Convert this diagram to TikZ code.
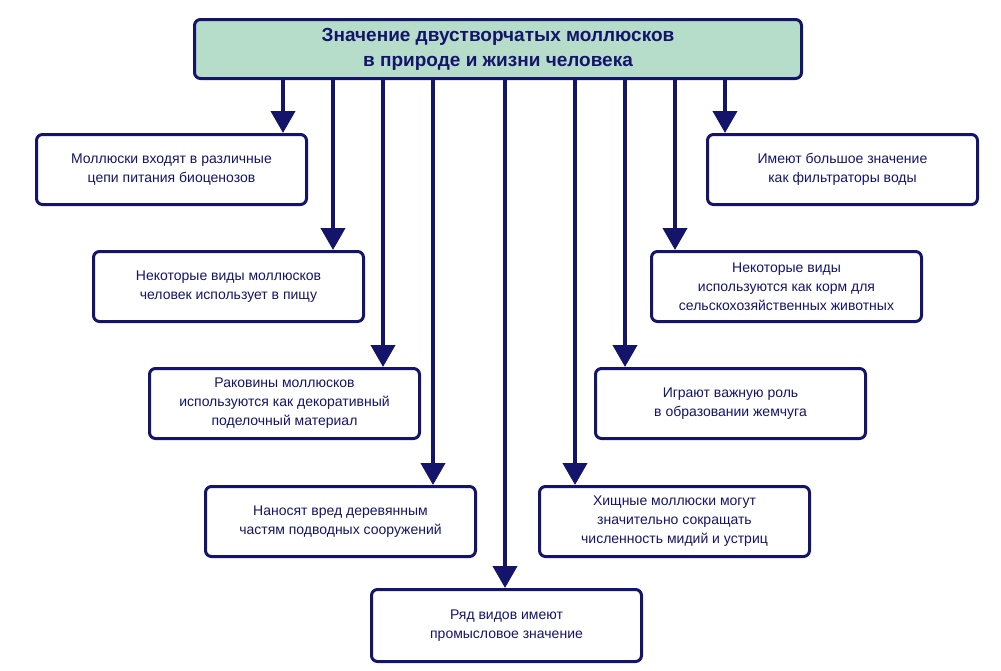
\documentclass[tikz,border=0pt]{standalone}
\usepackage{fontspec}
\setmainfont{Liberation Sans}
\usetikzlibrary{arrows.meta}
\definecolor{navy}{HTML}{14146B}
\definecolor{mint}{HTML}{B5DDCA}
\begin{document}
\begin{tikzpicture}[x=1pt,y=-1pt,
 box/.style={draw=navy,line width=3pt,rounded corners=6pt,fill=white,minimum width=270pt,minimum height=70pt,align=center,text=navy,font=\fontsize{14}{19}\selectfont,anchor=north west,inner sep=0pt},
 arr/.style={draw=navy,line width=4pt,-{Triangle[length=22pt,width=24pt]}}]
\useasboundingbox (0,0) rectangle (1001,670);
\node[box,fill=mint,minimum width=607pt,minimum height=59pt,font=\bfseries\fontsize{19}{25}\selectfont] (top) at (193,18) {Значение двустворчатых моллюсков\\в природе и жизни человека};
\node[box] (b1) at (35,133) {Моллюски входят в различные\\цепи питания биоценозов};
\node[box] (b2) at (92,250) {Некоторые виды моллюсков\\человек использует в пищу};
\node[box] (b3) at (148,367) {Раковины моллюсков\\используются как декоративный\\поделочный материал};
\node[box] (b4) at (204,485) {Наносят вред деревянным\\частям подводных сооружений};
\node[box,minimum height=72pt] (b5) at (370,588) {Ряд видов имеют\\промысловое значение};
\node[box] (b6) at (706,133) {Имеют большое значение\\как фильтраторы воды};
\node[box] (b7) at (650,250) {Некоторые виды\\используются как корм для\\сельскохозяйственных животных};
\node[box] (b8) at (594,367) {Играют важную роль\\в образовании жемчуга};
\node[box] (b9) at (538,485) {Хищные моллюски могут\\значительно сокращать\\численность мидий и устриц};
\foreach \b/\x in {b1/283,b2/333,b3/383,b4/433,b5/505,b6/725,b7/675,b8/625,b9/575}{
 \draw[arr] (top.south -| \x,0) -- (\b.north -| \x,0);
}
\end{tikzpicture}
\end{document}
